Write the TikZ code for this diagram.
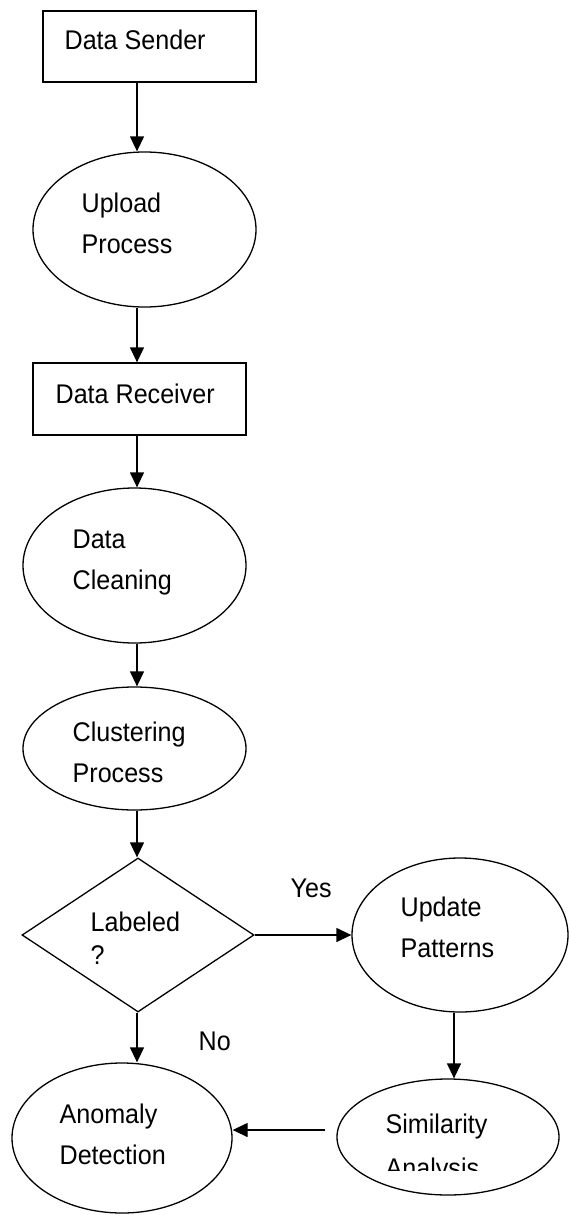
\documentclass[tikz,border=0pt]{standalone}
\usepackage{fontspec}
\setmainfont{Liberation Sans}[FakeStretch=0.93]
\usetikzlibrary{shapes.geometric,arrows.meta}

\begin{document}
\begin{tikzpicture}[x=1pt,y=-1pt,line width=1.3pt,
    every node/.style={inner sep=0pt},
    box/.style={draw,rectangle},
    oval/.style={draw,ellipse},
    ask/.style={draw,diamond},
    txt/.style={anchor=base west,align=left,font=\fontsize{27}{41}\selectfont},
    arr/.style={-{Triangle[length=15pt,width=14pt]}}]
                \useasboundingbox (0,0) rectangle (569,1215);
                % left column
                \node[box,minimum width=213,minimum height=71] (sender) at (149.5,46.5) {};
                \node[oval,minimum width=223,minimum height=155] (upload) at (144.5,229.5) {};
                \node[box,minimum width=213,minimum height=72] (receiver) at (139.5,399) {};
                \node[oval,minimum width=223,minimum height=155] (cleaning) at (134.5,565.5) {};
                \node[oval,minimum width=223,minimum height=123] (clustering) at (134.5,748.5) {};
                \node[ask,minimum width=232,minimum height=154] (labeled) at (138,935) {};
                \node[oval,minimum width=220,minimum height=150] (anomaly) at (122,1138) {};
                % right column
                \node[oval,minimum width=216,minimum height=154] (update) at (460,935) {};
                \node[oval,minimum width=222,minimum height=116] (similarity) at (448,1137) {};
                \coordinate (col) at (137,0);
                \coordinate (rcol) at (454,0);
                \coordinate (simstart) at (325,1130);
                % texts (anchored at the last baseline)
                \node[txt] (sendertext) at (64,50) {Data Sender};
                \node[txt] (uploadtext) at (81,253) {Upload\\Process};
                \node[txt] (receivertext) at (55,403) {Data Receiver};
                \node[txt] (cleaningtext) at (72,589) {Data\\Cleaning};
                \node[txt] (clusteringtext) at (72,782) {Clustering\\Process};
                \node[txt] (labeledtext) at (90,964) {Labeled\\[-8pt]?};
                \node[txt] (updatetext) at (400,957) {Update\\Patterns};
                \node[txt] (anomalytext) at (59,1164) {Anomaly\\Detection};
                \begin{scope}
                \clip (330,1080) rectangle (560,1170);
                \node[txt] (similaritytext) at (385,1177) {Similarity\\[3pt]Analysis};
                \end{scope}
                \node[txt] (yes) at (290,897) {Yes};
                \node[txt] (no) at (198,1050) {No};
                % connectors
                \draw[arr] (sender.south -| col) -- (upload.north -| col);
                \draw[arr] (upload.south -| col) -- (receiver.north -| col);
                \draw[arr] (receiver.south -| col) -- (cleaning.north -| col);
                \draw[arr] (cleaning.south -| col) -- (clustering.north -| col);
                \draw[arr] (clustering.south -| col) -- (labeled.north -| col);
                \draw[arr] (labeled.east) -- (update.west);
                \draw[arr] (labeled.south -| col) -- (anomaly.north -| col);
                \draw[arr] (update.south -| rcol) -- (similarity.north -| rcol);
                \draw[arr] (simstart) -- (anomaly.east |- simstart);
            \end{tikzpicture}
\end{document}
